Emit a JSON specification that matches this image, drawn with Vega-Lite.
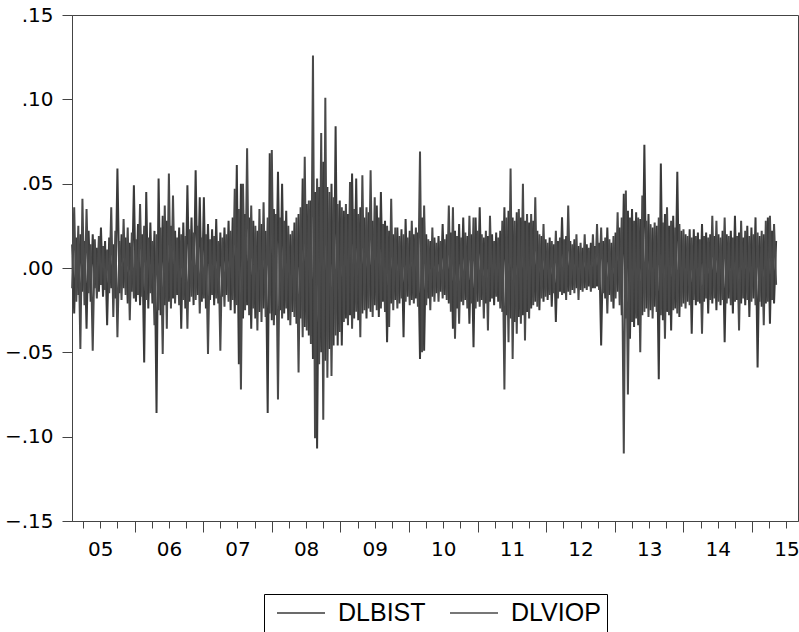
{
"$schema": "https://vega.github.io/schema/vega-lite/v6.json",
"width": 726, "height": 506,
"autosize": {"type": "none"},
"padding": {"left": 72, "top": 15, "right": 1, "bottom": 111},
"background": "#ffffff",
"config": {"view": {"stroke": "#444444", "strokeWidth": 1}},
"data": {"values": [
{"t":2005.09,"DLBIST":0.014,"DLVIOP":-0.012},{"t":2005.12,"DLBIST":-0.027,"DLVIOP":0.036},{"t":2005.15,"DLBIST":0.018,"DLVIOP":-0.020},{"t":2005.18,"DLBIST":-0.016,"DLVIOP":0.025},{"t":2005.21,"DLBIST":0.020,"DLVIOP":-0.048},{"t":2005.24,"DLBIST":-0.014,"DLVIOP":0.041},{"t":2005.27,"DLBIST":0.016,"DLVIOP":-0.022},{"t":2005.30,"DLBIST":-0.036,"DLVIOP":0.035},{"t":2005.33,"DLBIST":0.022,"DLVIOP":-0.015},{"t":2005.36,"DLBIST":-0.020,"DLVIOP":0.014},
{"t":2005.39,"DLBIST":0.020,"DLVIOP":-0.049},{"t":2005.42,"DLBIST":-0.012,"DLVIOP":0.017},{"t":2005.45,"DLBIST":0.012,"DLVIOP":-0.018},{"t":2005.48,"DLBIST":-0.014,"DLVIOP":0.019},{"t":2005.51,"DLBIST":0.024,"DLVIOP":-0.010},{"t":2005.54,"DLBIST":-0.017,"DLVIOP":0.013},{"t":2005.57,"DLBIST":0.016,"DLVIOP":-0.013},{"t":2005.60,"DLBIST":-0.034,"DLVIOP":0.011},{"t":2005.63,"DLBIST":0.018,"DLVIOP":-0.015},{"t":2005.66,"DLBIST":-0.012,"DLVIOP":0.036},
{"t":2005.69,"DLBIST":0.014,"DLVIOP":-0.029},{"t":2005.72,"DLBIST":-0.018,"DLVIOP":0.022},{"t":2005.75,"DLBIST":0.059,"DLVIOP":-0.041},{"t":2005.78,"DLBIST":-0.015,"DLVIOP":0.016},{"t":2005.81,"DLBIST":0.020,"DLVIOP":-0.019},{"t":2005.84,"DLBIST":-0.012,"DLVIOP":0.029},{"t":2005.87,"DLBIST":0.018,"DLVIOP":-0.016},{"t":2005.90,"DLBIST":-0.021,"DLVIOP":0.024},{"t":2005.93,"DLBIST":0.015,"DLVIOP":-0.031},{"t":2005.96,"DLBIST":-0.014,"DLVIOP":0.021},
{"t":2005.99,"DLBIST":0.049,"DLVIOP":-0.018},{"t":2006.02,"DLBIST":-0.020,"DLVIOP":0.017},{"t":2006.05,"DLBIST":0.026,"DLVIOP":-0.016},{"t":2006.08,"DLBIST":-0.022,"DLVIOP":0.038},{"t":2006.11,"DLBIST":0.020,"DLVIOP":-0.017},{"t":2006.14,"DLBIST":-0.056,"DLVIOP":0.025},{"t":2006.17,"DLBIST":0.045,"DLVIOP":-0.019},{"t":2006.20,"DLBIST":-0.024,"DLVIOP":0.018},{"t":2006.23,"DLBIST":0.027,"DLVIOP":-0.015},{"t":2006.26,"DLBIST":-0.021,"DLVIOP":0.016},
{"t":2006.29,"DLBIST":0.022,"DLVIOP":-0.034},{"t":2006.32,"DLBIST":-0.086,"DLVIOP":0.020},{"t":2006.35,"DLBIST":0.053,"DLVIOP":-0.025},{"t":2006.38,"DLBIST":-0.028,"DLVIOP":0.024},{"t":2006.41,"DLBIST":0.031,"DLVIOP":-0.051},{"t":2006.44,"DLBIST":-0.022,"DLVIOP":0.037},{"t":2006.47,"DLBIST":0.028,"DLVIOP":-0.036},{"t":2006.50,"DLBIST":-0.020,"DLVIOP":0.056},{"t":2006.53,"DLBIST":0.025,"DLVIOP":-0.024},{"t":2006.56,"DLBIST":-0.018,"DLVIOP":0.043},
{"t":2006.59,"DLBIST":0.022,"DLVIOP":-0.021},{"t":2006.62,"DLBIST":-0.016,"DLVIOP":0.018},{"t":2006.65,"DLBIST":0.024,"DLVIOP":-0.022},{"t":2006.68,"DLBIST":-0.036,"DLVIOP":0.020},{"t":2006.71,"DLBIST":0.027,"DLVIOP":-0.019},{"t":2006.74,"DLBIST":-0.024,"DLVIOP":0.019},{"t":2006.77,"DLBIST":0.049,"DLVIOP":-0.036},{"t":2006.80,"DLBIST":-0.020,"DLVIOP":0.023},{"t":2006.83,"DLBIST":0.030,"DLVIOP":-0.017},{"t":2006.86,"DLBIST":-0.022,"DLVIOP":0.021},
{"t":2006.89,"DLBIST":0.058,"DLVIOP":-0.019},{"t":2006.92,"DLBIST":-0.016,"DLVIOP":0.025},{"t":2006.95,"DLBIST":0.042,"DLVIOP":-0.027},{"t":2006.98,"DLBIST":-0.020,"DLVIOP":0.018},{"t":2007.01,"DLBIST":0.042,"DLVIOP":-0.018},{"t":2007.04,"DLBIST":-0.024,"DLVIOP":0.020},{"t":2007.07,"DLBIST":0.026,"DLVIOP":-0.051},{"t":2007.10,"DLBIST":-0.019,"DLVIOP":0.017},{"t":2007.13,"DLBIST":0.023,"DLVIOP":-0.016},{"t":2007.16,"DLBIST":-0.022,"DLVIOP":0.019},
{"t":2007.19,"DLBIST":0.029,"DLVIOP":-0.018},{"t":2007.22,"DLBIST":-0.021,"DLVIOP":0.016},{"t":2007.25,"DLBIST":0.021,"DLVIOP":-0.049},{"t":2007.28,"DLBIST":-0.017,"DLVIOP":0.018},{"t":2007.31,"DLBIST":0.024,"DLVIOP":-0.023},{"t":2007.34,"DLBIST":-0.016,"DLVIOP":0.020},{"t":2007.37,"DLBIST":0.028,"DLVIOP":-0.020},{"t":2007.40,"DLBIST":-0.025,"DLVIOP":0.022},{"t":2007.43,"DLBIST":0.030,"DLVIOP":-0.019},{"t":2007.46,"DLBIST":-0.027,"DLVIOP":0.047},
{"t":2007.49,"DLBIST":0.061,"DLVIOP":-0.022},{"t":2007.52,"DLBIST":-0.057,"DLVIOP":0.035},{"t":2007.55,"DLBIST":0.050,"DLVIOP":-0.072},{"t":2007.58,"DLBIST":-0.030,"DLVIOP":0.050},{"t":2007.61,"DLBIST":0.032,"DLVIOP":-0.025},{"t":2007.64,"DLBIST":-0.022,"DLVIOP":0.071},{"t":2007.67,"DLBIST":0.030,"DLVIOP":-0.028},{"t":2007.70,"DLBIST":-0.036,"DLVIOP":0.037},{"t":2007.73,"DLBIST":0.028,"DLVIOP":-0.024},{"t":2007.76,"DLBIST":-0.030,"DLVIOP":0.025},
{"t":2007.79,"DLBIST":0.022,"DLVIOP":-0.037},{"t":2007.82,"DLBIST":-0.026,"DLVIOP":0.035},{"t":2007.85,"DLBIST":0.026,"DLVIOP":-0.032},{"t":2007.88,"DLBIST":-0.024,"DLVIOP":0.039},{"t":2007.91,"DLBIST":0.022,"DLVIOP":-0.029},{"t":2007.94,"DLBIST":-0.086,"DLVIOP":0.030},{"t":2007.97,"DLBIST":0.068,"DLVIOP":-0.027},{"t":2008.00,"DLBIST":-0.031,"DLVIOP":0.070},{"t":2008.03,"DLBIST":0.035,"DLVIOP":-0.034},{"t":2008.06,"DLBIST":-0.028,"DLVIOP":0.032},
{"t":2008.09,"DLBIST":0.057,"DLVIOP":-0.078},{"t":2008.12,"DLBIST":-0.025,"DLVIOP":0.030},{"t":2008.15,"DLBIST":0.050,"DLVIOP":-0.030},{"t":2008.18,"DLBIST":-0.027,"DLVIOP":0.028},{"t":2008.21,"DLBIST":0.034,"DLVIOP":-0.024},{"t":2008.24,"DLBIST":-0.031,"DLVIOP":0.025},{"t":2008.27,"DLBIST":0.020,"DLVIOP":-0.034},{"t":2008.30,"DLBIST":-0.026,"DLVIOP":0.022},{"t":2008.33,"DLBIST":0.027,"DLVIOP":-0.029},{"t":2008.36,"DLBIST":-0.033,"DLVIOP":0.030},
{"t":2008.39,"DLBIST":0.032,"DLVIOP":-0.062},{"t":2008.42,"DLBIST":-0.030,"DLVIOP":0.036},{"t":2008.45,"DLBIST":0.053,"DLVIOP":-0.041},{"t":2008.48,"DLBIST":-0.035,"DLVIOP":0.066},{"t":2008.51,"DLBIST":0.038,"DLVIOP":-0.037},{"t":2008.54,"DLBIST":-0.040,"DLVIOP":0.040},{"t":2008.57,"DLBIST":0.040,"DLVIOP":-0.045},{"t":2008.60,"DLBIST":-0.054,"DLVIOP":0.126},{"t":2008.63,"DLBIST":0.045,"DLVIOP":-0.101},{"t":2008.66,"DLBIST":-0.107,"DLVIOP":0.053},
{"t":2008.69,"DLBIST":0.048,"DLVIOP":-0.057},{"t":2008.72,"DLBIST":-0.050,"DLVIOP":0.080},{"t":2008.75,"DLBIST":0.063,"DLVIOP":-0.090},{"t":2008.78,"DLBIST":-0.055,"DLVIOP":0.101},{"t":2008.81,"DLBIST":0.048,"DLVIOP":-0.065},{"t":2008.84,"DLBIST":-0.048,"DLVIOP":0.045},{"t":2008.87,"DLBIST":0.050,"DLVIOP":-0.064},{"t":2008.90,"DLBIST":-0.046,"DLVIOP":0.042},{"t":2008.93,"DLBIST":0.084,"DLVIOP":-0.040},{"t":2008.96,"DLBIST":-0.046,"DLVIOP":0.038},
{"t":2008.99,"DLBIST":0.040,"DLVIOP":-0.038},{"t":2009.02,"DLBIST":-0.046,"DLVIOP":0.036},{"t":2009.05,"DLBIST":0.034,"DLVIOP":-0.032},{"t":2009.08,"DLBIST":-0.030,"DLVIOP":0.038},{"t":2009.11,"DLBIST":0.032,"DLVIOP":-0.034},{"t":2009.14,"DLBIST":-0.028,"DLVIOP":0.051},{"t":2009.17,"DLBIST":0.056,"DLVIOP":-0.036},{"t":2009.20,"DLBIST":-0.030,"DLVIOP":0.035},{"t":2009.23,"DLBIST":0.053,"DLVIOP":-0.026},{"t":2009.26,"DLBIST":-0.031,"DLVIOP":0.032},
{"t":2009.29,"DLBIST":0.036,"DLVIOP":-0.041},{"t":2009.32,"DLBIST":-0.027,"DLVIOP":0.055},{"t":2009.35,"DLBIST":0.030,"DLVIOP":-0.025},{"t":2009.38,"DLBIST":-0.030,"DLVIOP":0.036},{"t":2009.41,"DLBIST":0.033,"DLVIOP":-0.024},{"t":2009.44,"DLBIST":-0.026,"DLVIOP":0.058},{"t":2009.47,"DLBIST":0.028,"DLVIOP":-0.029},{"t":2009.50,"DLBIST":-0.022,"DLVIOP":0.042},{"t":2009.53,"DLBIST":0.037,"DLVIOP":-0.025},{"t":2009.56,"DLBIST":-0.029,"DLVIOP":0.030},
{"t":2009.59,"DLBIST":0.045,"DLVIOP":-0.024},{"t":2009.62,"DLBIST":-0.020,"DLVIOP":0.026},{"t":2009.65,"DLBIST":0.028,"DLVIOP":-0.026},{"t":2009.68,"DLBIST":-0.044,"DLVIOP":0.025},{"t":2009.71,"DLBIST":0.022,"DLVIOP":-0.035},{"t":2009.74,"DLBIST":-0.021,"DLVIOP":0.041},{"t":2009.77,"DLBIST":0.020,"DLVIOP":-0.025},{"t":2009.80,"DLBIST":-0.019,"DLVIOP":0.024},{"t":2009.83,"DLBIST":0.024,"DLVIOP":-0.024},{"t":2009.86,"DLBIST":-0.021,"DLVIOP":0.019},
{"t":2009.89,"DLBIST":0.023,"DLVIOP":-0.018},{"t":2009.92,"DLBIST":-0.041,"DLVIOP":0.020},{"t":2009.95,"DLBIST":0.029,"DLVIOP":-0.020},{"t":2009.98,"DLBIST":-0.017,"DLVIOP":0.018},{"t":2010.01,"DLBIST":0.022,"DLVIOP":-0.022},{"t":2010.04,"DLBIST":-0.019,"DLVIOP":0.028},{"t":2010.07,"DLBIST":0.020,"DLVIOP":-0.021},{"t":2010.10,"DLBIST":-0.018,"DLVIOP":0.024},{"t":2010.13,"DLBIST":0.021,"DLVIOP":-0.023},{"t":2010.16,"DLBIST":-0.054,"DLVIOP":0.069},
{"t":2010.19,"DLBIST":0.030,"DLVIOP":-0.050},{"t":2010.22,"DLBIST":-0.049,"DLVIOP":0.037},{"t":2010.25,"DLBIST":0.020,"DLVIOP":-0.022},{"t":2010.28,"DLBIST":-0.018,"DLVIOP":0.017},{"t":2010.31,"DLBIST":0.016,"DLVIOP":-0.025},{"t":2010.34,"DLBIST":-0.017,"DLVIOP":0.024},{"t":2010.37,"DLBIST":0.018,"DLVIOP":-0.020},{"t":2010.40,"DLBIST":-0.015,"DLVIOP":0.015},{"t":2010.43,"DLBIST":0.019,"DLVIOP":-0.020},{"t":2010.46,"DLBIST":-0.014,"DLVIOP":0.016},
{"t":2010.49,"DLBIST":0.026,"DLVIOP":-0.018},{"t":2010.52,"DLBIST":-0.016,"DLVIOP":0.017},{"t":2010.55,"DLBIST":0.020,"DLVIOP":-0.019},{"t":2010.58,"DLBIST":-0.021,"DLVIOP":0.037},{"t":2010.61,"DLBIST":0.021,"DLVIOP":-0.026},{"t":2010.64,"DLBIST":-0.036,"DLVIOP":0.036},{"t":2010.67,"DLBIST":0.022,"DLVIOP":-0.042},{"t":2010.70,"DLBIST":-0.024,"DLVIOP":0.019},{"t":2010.73,"DLBIST":0.026,"DLVIOP":-0.033},{"t":2010.76,"DLBIST":-0.020,"DLVIOP":0.018},
{"t":2010.79,"DLBIST":0.030,"DLVIOP":-0.022},{"t":2010.82,"DLBIST":-0.019,"DLVIOP":0.021},{"t":2010.85,"DLBIST":0.019,"DLVIOP":-0.024},{"t":2010.88,"DLBIST":-0.033,"DLVIOP":0.031},{"t":2010.91,"DLBIST":0.020,"DLVIOP":-0.021},{"t":2010.94,"DLBIST":-0.047,"DLVIOP":0.030},{"t":2010.97,"DLBIST":0.030,"DLVIOP":-0.024},{"t":2011.00,"DLBIST":-0.020,"DLVIOP":0.022},{"t":2011.03,"DLBIST":0.036,"DLVIOP":-0.023},{"t":2011.06,"DLBIST":-0.019,"DLVIOP":0.020},
{"t":2011.09,"DLBIST":0.018,"DLVIOP":-0.030},{"t":2011.12,"DLBIST":-0.021,"DLVIOP":0.022},{"t":2011.15,"DLBIST":0.019,"DLVIOP":-0.037},{"t":2011.18,"DLBIST":-0.020,"DLVIOP":0.031},{"t":2011.21,"DLBIST":0.020,"DLVIOP":-0.018},{"t":2011.24,"DLBIST":-0.022,"DLVIOP":0.016},{"t":2011.27,"DLBIST":0.021,"DLVIOP":-0.017},{"t":2011.30,"DLBIST":-0.020,"DLVIOP":0.018},{"t":2011.33,"DLBIST":0.022,"DLVIOP":-0.024},{"t":2011.36,"DLBIST":-0.026,"DLVIOP":0.028},
{"t":2011.39,"DLBIST":0.036,"DLVIOP":-0.072},{"t":2011.42,"DLBIST":-0.028,"DLVIOP":0.030},{"t":2011.45,"DLBIST":0.034,"DLVIOP":-0.044},{"t":2011.48,"DLBIST":-0.030,"DLVIOP":0.059},{"t":2011.51,"DLBIST":0.030,"DLVIOP":-0.054},{"t":2011.54,"DLBIST":-0.032,"DLVIOP":0.028},{"t":2011.57,"DLBIST":0.033,"DLVIOP":-0.039},{"t":2011.60,"DLBIST":-0.029,"DLVIOP":0.035},{"t":2011.63,"DLBIST":0.030,"DLVIOP":-0.033},{"t":2011.66,"DLBIST":-0.028,"DLVIOP":0.050},
{"t":2011.69,"DLBIST":0.028,"DLVIOP":-0.043},{"t":2011.72,"DLBIST":-0.026,"DLVIOP":0.032},{"t":2011.75,"DLBIST":0.027,"DLVIOP":-0.030},{"t":2011.78,"DLBIST":-0.024,"DLVIOP":0.032},{"t":2011.81,"DLBIST":0.028,"DLVIOP":-0.022},{"t":2011.84,"DLBIST":-0.020,"DLVIOP":0.042},{"t":2011.87,"DLBIST":0.022,"DLVIOP":-0.023},{"t":2011.90,"DLBIST":-0.025,"DLVIOP":0.020},{"t":2011.93,"DLBIST":0.019,"DLVIOP":-0.018},{"t":2011.96,"DLBIST":-0.020,"DLVIOP":0.026},
{"t":2011.99,"DLBIST":0.017,"DLVIOP":-0.017},{"t":2012.02,"DLBIST":-0.019,"DLVIOP":0.015},{"t":2012.05,"DLBIST":0.018,"DLVIOP":-0.016},{"t":2012.08,"DLBIST":-0.023,"DLVIOP":0.016},{"t":2012.11,"DLBIST":0.014,"DLVIOP":-0.015},{"t":2012.14,"DLBIST":-0.032,"DLVIOP":0.022},{"t":2012.17,"DLBIST":0.016,"DLVIOP":-0.018},{"t":2012.20,"DLBIST":-0.014,"DLVIOP":0.018},{"t":2012.23,"DLBIST":0.030,"DLVIOP":-0.016},{"t":2012.26,"DLBIST":-0.015,"DLVIOP":0.017},
{"t":2012.29,"DLBIST":0.019,"DLVIOP":-0.019},{"t":2012.32,"DLBIST":-0.014,"DLVIOP":0.037},{"t":2012.35,"DLBIST":0.016,"DLVIOP":-0.016},{"t":2012.38,"DLBIST":-0.013,"DLVIOP":0.014},{"t":2012.41,"DLBIST":0.017,"DLVIOP":-0.015},{"t":2012.44,"DLBIST":-0.012,"DLVIOP":0.020},{"t":2012.47,"DLBIST":0.013,"DLVIOP":-0.019},{"t":2012.50,"DLBIST":-0.013,"DLVIOP":0.015},{"t":2012.53,"DLBIST":0.012,"DLVIOP":-0.014},{"t":2012.56,"DLBIST":-0.012,"DLVIOP":0.020},
{"t":2012.59,"DLBIST":0.014,"DLVIOP":-0.013},{"t":2012.62,"DLBIST":-0.011,"DLVIOP":0.012},{"t":2012.65,"DLBIST":0.015,"DLVIOP":-0.014},{"t":2012.68,"DLBIST":-0.012,"DLVIOP":0.020},{"t":2012.71,"DLBIST":0.013,"DLVIOP":-0.012},{"t":2012.74,"DLBIST":-0.011,"DLVIOP":0.026},{"t":2012.77,"DLBIST":0.015,"DLVIOP":-0.013},{"t":2012.80,"DLBIST":-0.046,"DLVIOP":0.024},{"t":2012.83,"DLBIST":0.016,"DLVIOP":-0.015},{"t":2012.86,"DLBIST":-0.018,"DLVIOP":0.018},
{"t":2012.89,"DLBIST":0.024,"DLVIOP":-0.027},{"t":2012.92,"DLBIST":-0.016,"DLVIOP":0.017},{"t":2012.95,"DLBIST":0.015,"DLVIOP":-0.020},{"t":2012.98,"DLBIST":-0.024,"DLVIOP":0.019},{"t":2013.01,"DLBIST":0.021,"DLVIOP":-0.018},{"t":2013.04,"DLBIST":-0.014,"DLVIOP":0.033},{"t":2013.07,"DLBIST":0.024,"DLVIOP":-0.022},{"t":2013.10,"DLBIST":-0.028,"DLVIOP":0.030},{"t":2013.13,"DLBIST":0.044,"DLVIOP":-0.110},{"t":2013.16,"DLBIST":-0.030,"DLVIOP":0.046},
{"t":2013.19,"DLBIST":0.034,"DLVIOP":-0.075},{"t":2013.22,"DLBIST":-0.042,"DLVIOP":0.030},{"t":2013.25,"DLBIST":0.035,"DLVIOP":-0.032},{"t":2013.28,"DLBIST":-0.035,"DLVIOP":0.028},{"t":2013.31,"DLBIST":0.033,"DLVIOP":-0.030},{"t":2013.34,"DLBIST":-0.034,"DLVIOP":0.030},{"t":2013.37,"DLBIST":0.029,"DLVIOP":-0.050},{"t":2013.40,"DLBIST":-0.028,"DLVIOP":0.043},{"t":2013.43,"DLBIST":0.073,"DLVIOP":-0.026},{"t":2013.46,"DLBIST":-0.024,"DLVIOP":0.028},
{"t":2013.49,"DLBIST":0.032,"DLVIOP":-0.029},{"t":2013.52,"DLBIST":-0.025,"DLVIOP":0.026},{"t":2013.55,"DLBIST":0.024,"DLVIOP":-0.030},{"t":2013.58,"DLBIST":-0.023,"DLVIOP":0.027},{"t":2013.61,"DLBIST":0.025,"DLVIOP":-0.026},{"t":2013.64,"DLBIST":-0.066,"DLVIOP":0.030},{"t":2013.67,"DLBIST":0.062,"DLVIOP":-0.028},{"t":2013.70,"DLBIST":-0.031,"DLVIOP":0.027},{"t":2013.73,"DLBIST":0.032,"DLVIOP":-0.042},{"t":2013.76,"DLBIST":-0.026,"DLVIOP":0.036},
{"t":2013.79,"DLBIST":0.025,"DLVIOP":-0.028},{"t":2013.82,"DLBIST":-0.037,"DLVIOP":0.028},{"t":2013.85,"DLBIST":0.031,"DLVIOP":-0.025},{"t":2013.88,"DLBIST":-0.024,"DLVIOP":0.024},{"t":2013.91,"DLBIST":0.057,"DLVIOP":-0.027},{"t":2013.94,"DLBIST":-0.029,"DLVIOP":0.026},{"t":2013.97,"DLBIST":0.022,"DLVIOP":-0.023},{"t":2014.00,"DLBIST":-0.021,"DLVIOP":0.023},{"t":2014.03,"DLBIST":0.020,"DLVIOP":-0.024},{"t":2014.06,"DLBIST":-0.020,"DLVIOP":0.019},
{"t":2014.09,"DLBIST":0.023,"DLVIOP":-0.022},{"t":2014.12,"DLBIST":-0.039,"DLVIOP":0.018},{"t":2014.15,"DLBIST":0.023,"DLVIOP":-0.019},{"t":2014.18,"DLBIST":-0.022,"DLVIOP":0.019},{"t":2014.21,"DLBIST":0.021,"DLVIOP":-0.020},{"t":2014.24,"DLBIST":-0.021,"DLVIOP":0.017},{"t":2014.27,"DLBIST":0.026,"DLVIOP":-0.039},{"t":2014.30,"DLBIST":-0.020,"DLVIOP":0.019},{"t":2014.33,"DLBIST":0.021,"DLVIOP":-0.018},{"t":2014.36,"DLBIST":-0.027,"DLVIOP":0.018},
{"t":2014.39,"DLBIST":0.020,"DLVIOP":-0.019},{"t":2014.42,"DLBIST":-0.021,"DLVIOP":0.031},{"t":2014.45,"DLBIST":0.019,"DLVIOP":-0.018},{"t":2014.48,"DLBIST":-0.025,"DLVIOP":0.028},{"t":2014.51,"DLBIST":0.020,"DLVIOP":-0.020},{"t":2014.54,"DLBIST":-0.022,"DLVIOP":0.018},{"t":2014.57,"DLBIST":0.022,"DLVIOP":-0.019},{"t":2014.60,"DLBIST":-0.044,"DLVIOP":0.030},{"t":2014.63,"DLBIST":0.020,"DLVIOP":-0.021},{"t":2014.66,"DLBIST":-0.018,"DLVIOP":0.019},
{"t":2014.69,"DLBIST":0.022,"DLVIOP":-0.022},{"t":2014.72,"DLBIST":-0.027,"DLVIOP":0.018},{"t":2014.75,"DLBIST":0.031,"DLVIOP":-0.020},{"t":2014.78,"DLBIST":-0.019,"DLVIOP":0.019},{"t":2014.81,"DLBIST":0.021,"DLVIOP":-0.037},{"t":2014.84,"DLBIST":-0.021,"DLVIOP":0.028},{"t":2014.87,"DLBIST":0.018,"DLVIOP":-0.018},{"t":2014.90,"DLBIST":-0.022,"DLVIOP":0.022},{"t":2014.93,"DLBIST":0.025,"DLVIOP":-0.019},{"t":2014.96,"DLBIST":-0.029,"DLVIOP":0.019},
{"t":2014.99,"DLBIST":0.024,"DLVIOP":-0.020},{"t":2015.02,"DLBIST":-0.018,"DLVIOP":0.020},{"t":2015.05,"DLBIST":0.030,"DLVIOP":-0.022},{"t":2015.08,"DLBIST":-0.059,"DLVIOP":0.021},{"t":2015.11,"DLBIST":0.019,"DLVIOP":-0.020},{"t":2015.14,"DLBIST":-0.023,"DLVIOP":0.022},{"t":2015.17,"DLBIST":0.020,"DLVIOP":-0.034},{"t":2015.20,"DLBIST":-0.021,"DLVIOP":0.028},{"t":2015.23,"DLBIST":0.030,"DLVIOP":-0.020},{"t":2015.26,"DLBIST":-0.033,"DLVIOP":0.031},
{"t":2015.29,"DLBIST":0.022,"DLVIOP":-0.019},{"t":2015.32,"DLBIST":-0.021,"DLVIOP":0.026},{"t":2015.35,"DLBIST":0.016,"DLVIOP":-0.010}
]},
"transform": [{"fold": ["DLBIST", "DLVIOP"], "as": ["series", "value"]}],
"mark": {"type": "line", "strokeWidth": 2, "interpolate": "linear"},
"encoding": {
  "x": {"field": "t", "type": "quantitative",
    "scale": {"domain": [2005.088, 2015.669], "nice": false, "zero": false},
    "axis": {"title": null, "grid": false,
      "values": [2005.25,2005.5,2005.75,2006,2006.25,2006.5,2006.75,2007,2007.25,2007.5,2007.75,2008,2008.25,2008.5,2008.75,2009,2009.25,2009.5,2009.75,2010,2010.25,2010.5,2010.75,2011,2011.25,2011.5,2011.75,2012,2012.25,2012.5,2012.75,2013,2013.25,2013.5,2013.75,2014,2014.25,2014.5,2014.75,2015,2015.25,2015.5],
      "tickSize": {"condition": {"test": "datum.value % 1 == 0", "value": 11}, "value": 7},
      "labelExpr": "datum.value % 1 == 0.5 ? format(floor(datum.value) % 100, '02d') : ''",
      "labelPadding": 11, "labelOverlap": false, "labelFlush": false, "labelBound": false,
      "labelFont": "DejaVu Sans", "labelFontSize": 20, "labelColor": "#000000",
      "domainColor": "#444444", "tickColor": "#444444", "tickWidth": 1}},
  "y": {"field": "value", "type": "quantitative",
    "scale": {"domain": [-0.15, 0.15], "nice": false},
    "axis": {"title": null, "grid": false,
      "values": [-0.15, -0.1, -0.05, 0, 0.05, 0.1, 0.15],
      "labelExpr": "replace(format(datum.value, '.2f'), '0.', '.')",
      "tickSize": 10, "labelPadding": 9,
      "labelFont": "DejaVu Sans", "labelFontSize": 20, "labelColor": "#000000",
      "domainColor": "#444444", "tickColor": "#444444", "tickWidth": 1}},
  "color": {"field": "series", "type": "nominal",
    "scale": {"domain": ["DLBIST", "DLVIOP"], "range": ["#3a3a3a", "#4a4a4a"]},
    "legend": {"title": null, "orient": "none", "legendX": 192, "legendY": 579,
      "direction": "horizontal", "strokeColor": "#000000", "fillColor": "#ffffff",
      "padding": 6, "symbolType": "M-2,0H2", "symbolSize": 576, "symbolStrokeWidth": 1.5,
      "symbolOffset": 18, "labelOffset": 24, "columnPadding": 17,
      "labelFont": "Liberation Sans", "labelFontSize": 25, "labelColor": "#000000"}}
}
}
